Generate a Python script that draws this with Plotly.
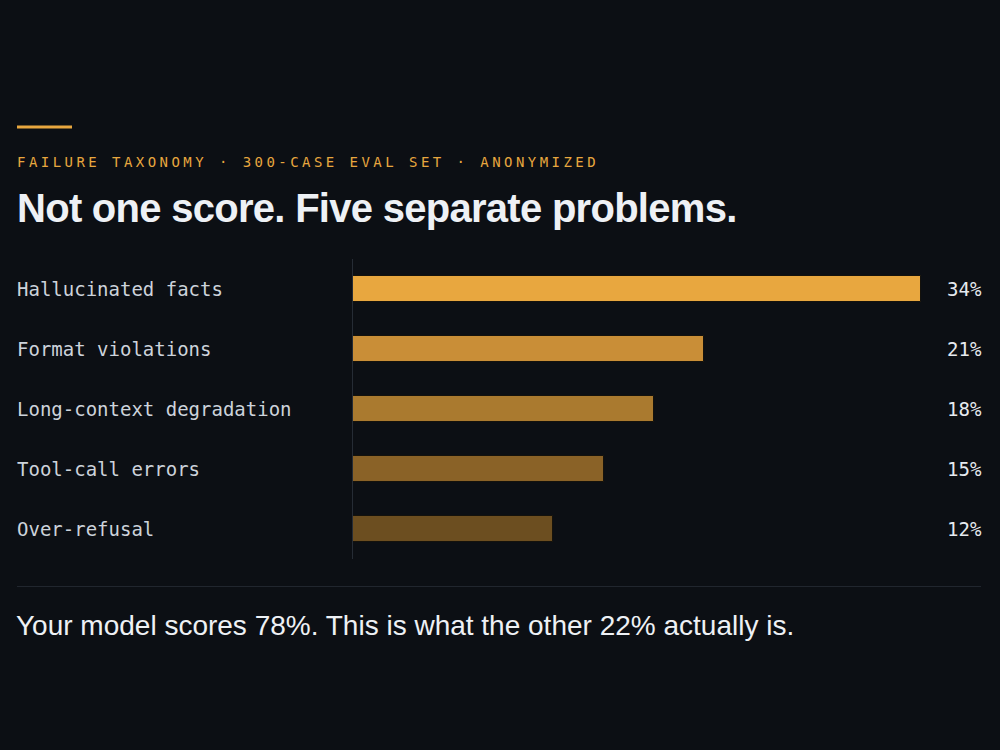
import plotly.graph_objects as go

categories = ["Hallucinated facts", "Format violations", "Long-context degradation",
              "Tool-call errors", "Over-refusal"]
values = [34, 21, 18, 15, 12]
value_labels = ["34%", "21%", "18%", "15%", "12%"]
bar_colors = ["#E8A73F", "#C98E37", "#AA7A2F", "#8A6227", "#6C4E20"]

kicker = "FAILURE TAXONOMY · 300-CASE EVAL SET · ANONYMIZED"
title = "Not one score. Five separate problems."
footer = "Your model scores 78%. This is what the other 22% actually is."

BG = "#0c0f14"
W, H = 1000, 750
MONO = "DejaVu Sans Mono, Menlo, monospace"
SANS = "Liberation Sans, Arial, Helvetica, sans-serif"


def py(px):
    return 1 - px / H


fig = go.Figure()
fig.add_trace(go.Bar(
    x=values, y=categories, orientation="h",
    marker=dict(color=bar_colors, line=dict(color="#15120c", width=1)),
    width=0.43, hoverinfo="skip", showlegend=False,
))

annotations = []
for c in categories:
    annotations.append(dict(x=0.015, xref="paper", y=c, yref="y", text=c,
                            xanchor="left", yanchor="middle", showarrow=False,
                            font=dict(family=MONO, size=19, color="#cdd3db")))
for c, lab in zip(categories, value_labels):
    annotations.append(dict(x=0.984, xref="paper", y=c, yref="y", text=lab,
                            xanchor="right", yanchor="middle", showarrow=False,
                            font=dict(family=MONO, size=19, color="#e6eaef")))

annotations.append(dict(x=0.015, xref="paper", y=py(162), yref="paper",
                        text='<span style="letter-spacing:3.45px">' + kicker + '</span>',
                        xanchor="left", yanchor="middle", showarrow=False,
                        font=dict(family=MONO, size=14, color="#E8A73F")))
annotations.append(dict(x=0.015, xref="paper", y=py(208), yref="paper",
                        text='<span style="letter-spacing:-0.72px">' + title + '</span>',
                        xanchor="left", yanchor="middle", showarrow=False,
                        font=dict(family=SANS, size=40, color="#eef1f5", weight="bold")))
annotations.append(dict(x=0.014, xref="paper", y=py(625), yref="paper",
                        text=footer,
                        xanchor="left", yanchor="middle", showarrow=False,
                        font=dict(family=SANS, size=28, color="#eef1f5")))

shapes = [
    dict(type="line", xref="paper", yref="paper", x0=0.017, x1=0.072,
         y0=py(127), y1=py(127), line=dict(color="#E8A73F", width=3)),
    dict(type="line", xref="paper", yref="paper", x0=0.017, x1=0.981,
         y0=py(586.5), y1=py(586.5), line=dict(color="#21262e", width=1)),
]

fig.update_layout(
    width=W, height=H, autosize=False,
    margin=dict(l=0, r=0, t=0, b=0),
    paper_bgcolor=BG, plot_bgcolor=BG,
    xaxis=dict(domain=[0.353, 0.921], range=[0, 34], showgrid=False,
               zeroline=False, showticklabels=False, showline=False, fixedrange=True),
    yaxis=dict(domain=[py(559), py(259)], autorange=False, range=[4.5, -0.5],
               showgrid=False, zeroline=False, showticklabels=False,
               showline=True, linecolor="#262c35", linewidth=1, fixedrange=True,
               categoryorder="array", categoryarray=categories),
    annotations=annotations,
    shapes=shapes,
    bargap=0,
)

page_js = ("document.body.style.margin='0';"
           "document.body.style.padding='0';"
           "document.body.style.overflow='hidden';"
           "document.body.style.background='" + BG + "';")

fig.write_html("out.html", post_script=page_js, config={"displayModeBar": False})
